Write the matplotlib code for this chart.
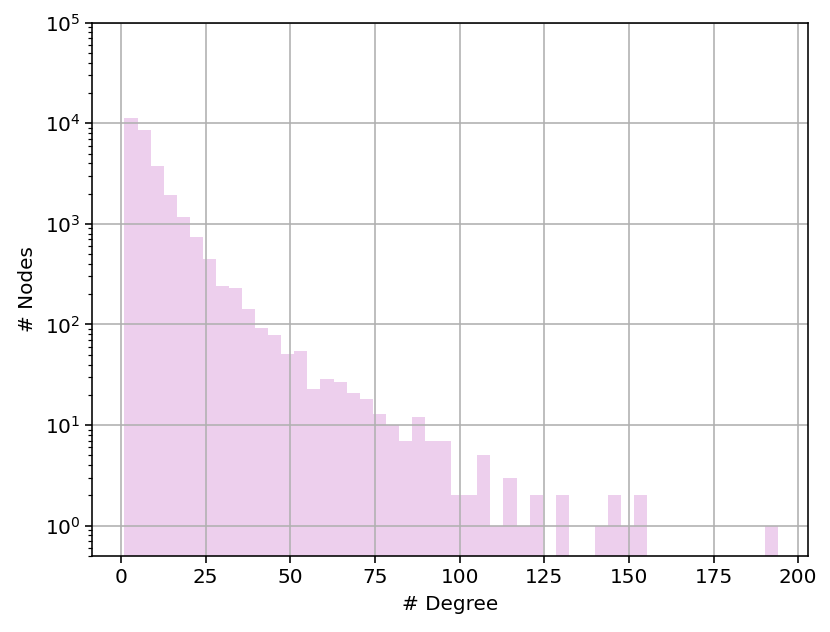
import numpy as np
import matplotlib
matplotlib.use("Agg")
import matplotlib.pyplot as plt

# Data (50 equal-width bins from 1 to 194)
degree_min = 1
degree_max = 194
n_bins = 50
node_counts = [11370, 8570, 3790, 1930, 1175, 748, 452, 244, 230, 142,
               93, 79, 51, 54, 23, 29, 27, 21, 18, 13,
               10, 7, 12, 7, 7, 2, 2, 5, 1, 3,
               1, 2, 0, 2, 0, 0, 1, 2, 1, 2,
               0, 0, 0, 0, 0, 0, 0, 0, 0, 1]
x_ticks = [0, 25, 50, 75, 100, 125, 150, 175, 200]

s = 1.44  # scale factor (reference rendered at ~144 dpi)
plt.rcParams.update({
    "font.family": "DejaVu Sans",
    "font.size": 10 * s,
    "axes.linewidth": 0.8 * s,
    "xtick.major.size": 3.5 * s,
    "ytick.major.size": 3.5 * s,
    "xtick.minor.size": 2 * s,
    "ytick.minor.size": 2 * s,
    "xtick.major.width": 0.8 * s,
    "ytick.major.width": 0.8 * s,
    "xtick.minor.width": 0.6 * s,
    "ytick.minor.width": 0.6 * s,
    "grid.linewidth": 0.8 * s,
})

fig = plt.figure(figsize=(8.3, 6.32), dpi=100)
ax = fig.add_axes([0.1112, 0.1203, 0.9739 - 0.1112, 0.9641 - 0.1203])

edges = np.linspace(degree_min, degree_max, n_bins + 1)
ax.hist(edges[:-1], bins=edges, weights=node_counts, color="plum", alpha=0.5)
ax.set_yscale("log")
ax.set_ylim(0.5, 1e5)
ax.set_xlim(-8.5, 203)
ax.set_xticks(x_ticks)
ax.grid(True, which="major", color="#b0b0b0")
ax.set_xlabel("# Degree", labelpad=4 * s)
ax.set_ylabel("# Nodes", labelpad=4 * s)

fig.savefig("out.png", dpi=100)
